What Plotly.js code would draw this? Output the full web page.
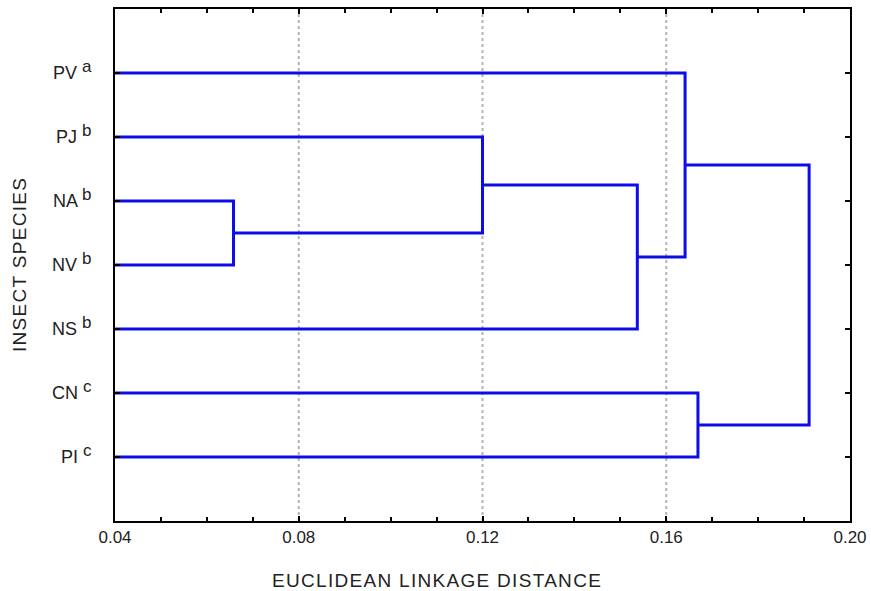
<!DOCTYPE html>
<html><head><meta charset="utf-8">
<script src="https://cdn.plot.ly/plotly-3.0.1.min.js"></script>
<style>html,body{margin:0;padding:0;background:#fff}#chart{width:871px;height:591px}
.annotation-text{letter-spacing:1.3px}</style>
</head><body><div id="chart"></div>
<script>
// Leaves in plot order (top to bottom) and their group letters
const leaves = ["PV", "PJ", "NA", "NV", "NS", "CN", "PI"];
const groups = ["a", "b", "b", "b", "b", "c", "c"];
const leafPos = [1, 2, 3, 4, 5, 6, 7];
// Merges: [left node, right node, linkage distance]; nodes 0..6 are leaves, 7+ clusters in merge order
const mergeA = [2, 1, 8, 0, 5, 10];
const mergeB = [3, 7, 4, 9, 6, 11];
const mergeDist = [0.0658, 0.1200, 0.1537, 0.1641, 0.1669, 0.1911];
const xStart = 0.04;
const xTicks = [0.04, 0.08, 0.12, 0.16, 0.20];
const xTickText = ["0.04", "0.08", "0.12", "0.16", "0.20"];
const xTitle = "EUCLIDEAN LINKAGE DISTANCE";
const yTitle = "INSECT SPECIES";

const nodeY = leafPos.slice();
const nodeX = leafPos.map(() => xStart);
const xs = [], ys = [];
for (let i = 0; i < mergeDist.length; i++) {
  const a = mergeA[i], b = mergeB[i], d = mergeDist[i];
  xs.push(nodeX[a], d, d, nodeX[b], null);
  ys.push(nodeY[a], nodeY[a], nodeY[b], nodeY[b], null);
  nodeX.push(d);
  nodeY.push((nodeY[a] + nodeY[b]) / 2);
}

const trace = {x: xs, y: ys, mode: "lines", type: "scatter",
  line: {color: "#0d0de8", width: 3}, hoverinfo: "skip", showlegend: false, cliponaxis: false};

const gridX = xTicks.slice(1, -1);
const shapes = gridX.map(v => ({type: "line", xref: "x", yref: "paper", x0: v, x1: v, y0: 0, y1: 1,
  line: {color: "#b4b4b4", width: 2, dash: "dot"}, layer: "below"}));

const annotations = [
  {text: xTitle, xref: "paper", yref: "paper", x: 0, y: 0, xanchor: "center", yanchor: "middle",
   xshift: 322, yshift: -59, showarrow: false, font: {size: 19, color: "#222"}},
  {text: yTitle, xref: "paper", yref: "paper", x: 0, y: 0.5, xanchor: "center", yanchor: "middle",
   xshift: -96, textangle: -90, showarrow: false, font: {size: 19, color: "#222"}}
];

const layout = {
  width: 871, height: 591,
  margin: {l: 115, r: 21, t: 9, b: 70},
  paper_bgcolor: "#fff", plot_bgcolor: "#fff",
  font: {family: "Liberation Sans, Arial, sans-serif", color: "#222", size: 17},
  showlegend: false,
  shapes: shapes,
  annotations: annotations,
  xaxis: {range: [0.04, 0.20], tickvals: xTicks, ticktext: xTickText, showgrid: false, zeroline: false,
    showline: true, linecolor: "#000", linewidth: 2, mirror: "ticks", ticks: "inside", ticklen: 5,
    tickwidth: 2, tickcolor: "#000", tickfont: {size: 17},
    minor: {dtick: 0.01, tick0: 0.04, ticks: "inside", ticklen: 4, tickwidth: 2, tickcolor: "#000", showgrid: false}},
  yaxis: {range: [8, 0], tickvals: leafPos,
    ticktext: leaves.map((l, i) => l + " <sup><span style=\"font-size:17px\">" + groups[i] + "</span></sup>"),
    showgrid: false, zeroline: false, showline: true, linecolor: "#000", linewidth: 2, mirror: "ticks",
    ticks: "inside", ticklen: 5, tickwidth: 2, tickcolor: "#000", tickfont: {size: 18}, ticklabelstandoff: 18}
};
Plotly.newPlot("chart", [trace], layout, {displayModeBar: false, staticPlot: true});
</script></body></html>
